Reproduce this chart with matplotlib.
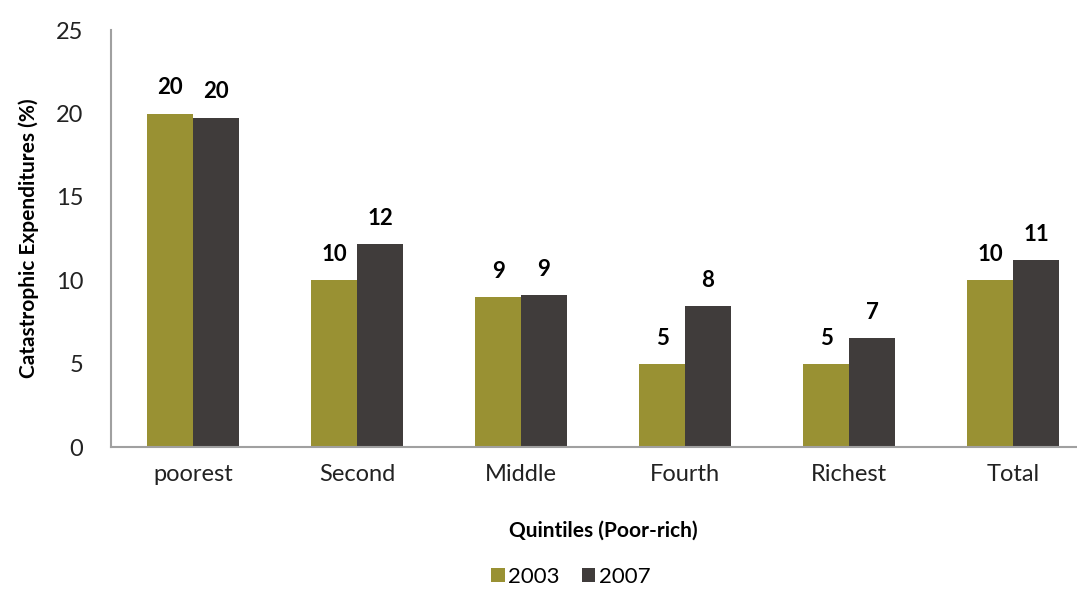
import matplotlib
matplotlib.use('Agg')
import matplotlib.pyplot as plt
import numpy as np

plt.rcParams['font.family'] = ['Lato', 'DejaVu Sans']

quintiles = ['poorest', 'Second', 'Middle', 'Fourth', 'Richest', 'Total']
y2003 = [20.0, 10.0, 9.0, 5.0, 5.0, 10.0]
y2007 = [19.75, 12.15, 9.1, 8.45, 6.55, 11.2]
years = ['2003', '2007']
colors = ['#999133', '#403C3B']

fig = plt.figure(figsize=(10.77, 5.9), dpi=100)
ax = fig.add_axes([0.103, 0.242, 0.914, 0.707])

x = np.arange(len(quintiles))
w = 0.28
for vals, off, col, lab in [(y2003, -w / 2, colors[0], years[0]),
                            (y2007, w / 2, colors[1], years[1])]:
    bars = ax.bar(x + off, vals, w, color=col, label=lab)
    for b, v in zip(bars, vals):
        ax.annotate(str(int(v + 0.5)), (b.get_x() + b.get_width() / 2, v),
                    xytext=(0, 11), textcoords='offset points',
                    ha='center', va='bottom', fontsize=16, fontweight='bold')

ax.set_xlim(-0.5, 5.5)
ax.set_ylim(0, 25)
ax.set_yticks(range(0, 26, 5))
ax.set_xticks(x)
ax.set_xticklabels(quintiles)
ax.tick_params(length=0, labelsize=17, colors='#222222')
ax.tick_params(axis='x', pad=12)
ax.tick_params(axis='y', pad=20)
for s in ['top', 'right']:
    ax.spines[s].set_visible(False)
for s in ['left', 'bottom']:
    ax.spines[s].set_color('#A0A0A0')
    ax.spines[s].set_linewidth(1.5)

ax.set_ylabel('Catastrophic Expenditures (%)', fontsize=15, fontweight='bold', labelpad=12)
ax.set_xlabel('Quintiles (Poor-rich)', fontsize=15, fontweight='bold', labelpad=26)

fig.legend(*ax.get_legend_handles_labels(), loc='center',
           bbox_to_anchor=(0.53, 0.022), bbox_transform=fig.transFigure, ncol=2,
           frameon=False, fontsize=16, handlelength=0.6, handleheight=0.6,
           handletextpad=0.15, columnspacing=1.0, borderpad=0)

plt.savefig('out.png', dpi=100)
